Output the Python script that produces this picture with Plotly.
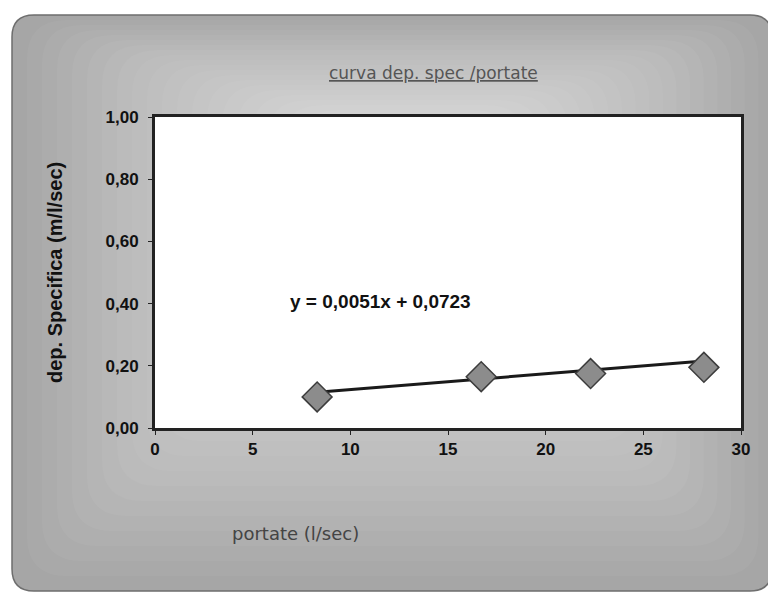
import plotly.graph_objects as go

# ---- data ----
portate = [8.3, 16.7, 22.3, 28.1]          # l/sec
dep_spec = [0.10, 0.165, 0.175, 0.195]     # m/l/sec
trend_slope = 0.0051
trend_intercept = 0.0723
x_ticks = [0, 5, 10, 15, 20, 25, 30]
y_ticks = [0.0, 0.2, 0.4, 0.6, 0.8, 1.0]

title_text = "<u>curva dep. spec /portate</u>"
x_title = "portate (l/sec)"
y_title = "dep. Specifica (m/l/sec)"
eq_text = "y = 0,0051x + 0,0723"

W_FIG, H_FIG = 776, 594
OFF = 8  # page body margin
L, R, T, B = 155 - OFF, 741 - OFF, 117 - OFF, 428 - OFF
PW, PH = R - L, B - T


def px(x):
    return (x - OFF - L) / PW


def py(y):
    return (B - (y - OFF)) / PH


def rrect(x0, y0, x1, y1, r):
    rx, ry = r / PW, r / PH
    a0, a1 = px(x0), px(x1)
    b0, b1 = py(y1), py(y0)  # bottom, top in paper
    return (f"M {a0+rx},{b1} L {a1-rx},{b1} Q {a1},{b1} {a1},{b1-ry} "
            f"L {a1},{b0+ry} Q {a1},{b0} {a1-rx},{b0} L {a0+rx},{b0} "
            f"Q {a0},{b0} {a0},{b0+ry} L {a0},{b1-ry} Q {a0},{b1} {a0+rx},{b1} Z")


shapes = []
# base gray rounded panel
shapes.append(dict(type="path", xref="paper", yref="paper", layer="below",
                   path=rrect(12, 15, 772, 591, 22), fillcolor="#a6a6a6",
                   line=dict(color="#6e6e6e", width=1.5)))
# concentric lighter layers to imitate the gradient
n = 22
for i in range(1, n):
    f = i / n
    x0 = 12 + f * 330
    x1 = 772 - f * 300
    y0 = 15 + f * 110
    y1 = 591 - f * 330
    shapes.append(dict(type="path", xref="paper", yref="paper", layer="below",
                       path=rrect(x0, y0, x1, y1, 40),
                       fillcolor="rgba(255,255,255,0.045)", line=dict(width=0)))
# white plot area
shapes.append(dict(type="rect", xref="paper", yref="paper", layer="below",
                   x0=0, x1=1, y0=0, y1=1, fillcolor="white", line=dict(width=0)))

fig = go.Figure()
x_line = [min(portate), max(portate)]
fig.add_trace(go.Scatter(x=x_line, y=[trend_slope * v + trend_intercept for v in x_line],
                         mode="lines", line=dict(color="#1a1a1a", width=3),
                         hoverinfo="skip", showlegend=False))
fig.add_trace(go.Scatter(x=portate, y=dep_spec, mode="markers",
                         marker=dict(symbol="diamond", size=23, color="#8c8c8c",
                                     line=dict(color="#3c3c3c", width=1.5)),
                         showlegend=False))

tickfont = dict(family="Liberation Sans, Arial, sans-serif", size=17,
                color="#111111", weight="bold")

fig.update_layout(
    width=W_FIG, height=H_FIG,
    margin=dict(l=L, r=W_FIG - R, t=T, b=H_FIG - B),
    paper_bgcolor="white", plot_bgcolor="rgba(0,0,0,0)",
    separators=",.",
    shapes=shapes,
    xaxis=dict(range=[0, 30], tickvals=x_ticks, showgrid=False, zeroline=False,
               showline=True, linecolor="#222222", linewidth=3, mirror=True,
               ticks="outside", ticklen=4, tickcolor="#222222", tickfont=tickfont),
    yaxis=dict(range=[0, 1], tickvals=y_ticks, tickformat=".2f", showgrid=False,
               zeroline=False, showline=True, linecolor="#222222", linewidth=3,
               mirror=True, ticks="outside", ticklen=4, tickcolor="#222222",
               tickfont=tickfont, ticklabelstandoff=6),
    annotations=[
        dict(text=title_text, xref="paper", yref="paper", x=px(433), y=py(73),
             xanchor="center", yanchor="middle", showarrow=False,
             font=dict(family="DejaVu Sans", size=17, color="#555555")),
        dict(text=x_title, xref="paper", yref="paper", x=px(295), y=py(533),
             xanchor="center", yanchor="middle", showarrow=False,
             font=dict(family="DejaVu Sans", size=18, color="#444444")),
        dict(text=y_title, xref="paper", yref="paper", x=px(55), y=py(272),
             xanchor="center", yanchor="middle", textangle=-90, showarrow=False,
             font=dict(family="Liberation Sans, Arial", size=20, color="#111111", weight="bold")),
        dict(text=eq_text, xref="paper", yref="paper", x=px(380), y=py(301),
             xanchor="center", yanchor="middle", showarrow=False,
             font=dict(family="Liberation Sans, Arial", size=19, color="#111111", weight="bold")),
    ],
)

fig.write_html("out.html")
